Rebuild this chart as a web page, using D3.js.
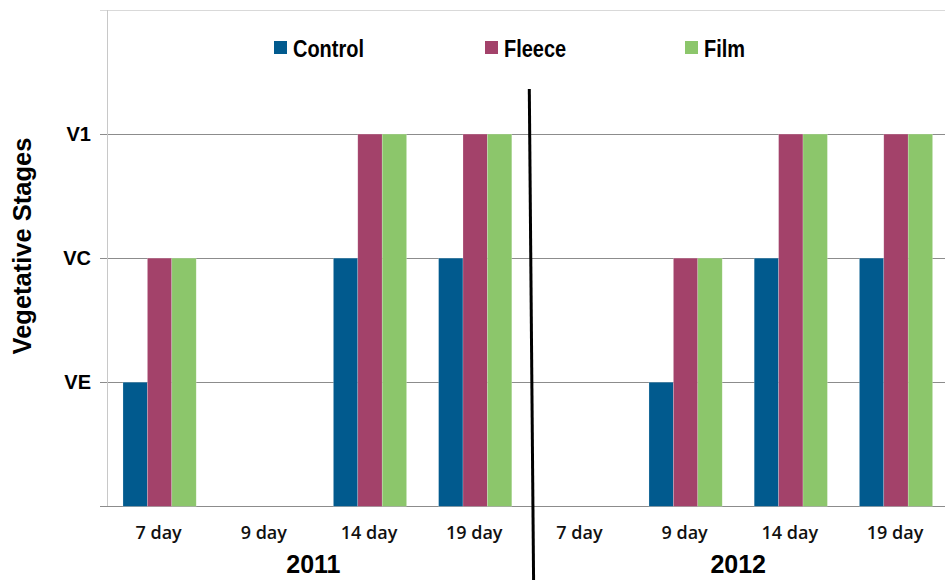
<!DOCTYPE html>
<html>
<head>
<meta charset="utf-8">
<script src="https://cdn.jsdelivr.net/npm/d3@7"></script>
<style>
  html, body { margin: 0; padding: 0; background: #fff; }
  svg { display: block; }
</style>
</head>
<body>
<svg id="chart" width="945" height="580"></svg>
<script>
// Sampling days, grouped by season
const days = ["7 day", "9 day", "14 day", "19 day", "7 day", "9 day", "14 day", "19 day"];
const years = ["2011", "2012"];
const seriesNames = ["Control", "Fleece", "Film"];
// Stage values: 0 = none, 1 = VE, 2 = VC, 3 = V1
const control = [1, 0, 2, 2, 0, 1, 2, 2];
const fleece  = [2, 0, 3, 3, 0, 2, 3, 3];
const film    = [2, 0, 3, 3, 0, 2, 3, 3];
const stageTicks = [1, 2, 3];
const stageLabels = ["VE", "VC", "V1"];
const colors = ["#015a8e", "#a3426a", "#8cc66b"];

const series = [control, fleece, film];
const groups = days.map((d, i) => i);

const svg = d3.select("#chart");
const plotLeft = 107, plotRight = 948.6, plotTop = 10, plotBottom = 506.3;

const x = d3.scaleBand().domain(groups).range([plotLeft, plotRight]).paddingInner(0).paddingOuter(0);
const xs = d3.scaleBand().domain(seriesNames).range([0, x.bandwidth()]).paddingInner(0).paddingOuter(0.655);
const y = d3.scaleLinear().domain([0, 4]).range([plotBottom, plotTop]);

// Horizontal grid lines
const yAxis = d3.axisLeft(y)
  .tickValues([0, 1, 2, 3, 4])
  .tickSize(-(plotRight - plotLeft))
  .tickFormat("");
const gy = svg.append("g").attr("transform", `translate(${plotLeft},0)`).call(yAxis);
gy.select(".domain").remove();
gy.selectAll(".tick line")
  .attr("x1", -7)
  .attr("stroke", d => d === 4 ? "#d9d9d9" : "#8c8c8c")
  .attr("stroke-width", 1)
  .attr("shape-rendering", "crispEdges");

// Vertical value axis line
svg.append("line")
  .attr("x1", plotLeft).attr("x2", plotLeft)
  .attr("y1", y(4)).attr("y2", y(0))
  .attr("stroke", "#c8c8c8")
  .attr("shape-rendering", "crispEdges");

// Stage labels
svg.append("g").selectAll("text")
  .data(stageTicks)
  .join("text")
  .attr("x", 91)
  .attr("y", d => y(d))
  .attr("dy", "0.36em")
  .attr("text-anchor", "end")
  .attr("font-family", "Liberation Sans, Arial, sans-serif")
  .attr("font-weight", "bold")
  .attr("font-size", 20)
  .attr("fill", "#000")
  .text((d, i) => stageLabels[i]);

// Bars
const barData = [];
groups.forEach(g => {
  seriesNames.forEach((s, si) => {
    if (series[si][g] > 0) barData.push({ g, s, si, v: series[si][g] });
  });
});
svg.append("g").selectAll("rect")
  .data(barData)
  .join("rect")
  .attr("x", d => x(d.g) + xs(d.s))
  .attr("width", xs.bandwidth())
  .attr("y", d => y(d.v))
  .attr("height", d => y(0) - y(d.v))
  .attr("fill", d => colors[d.si])
  .attr("stroke", "rgba(255,255,255,0.35)")
  .attr("stroke-width", 0.6);

// Day labels
svg.append("g").selectAll("text")
  .data(groups)
  .join("text")
  .attr("x", d => x(d) + x.bandwidth() / 2 - 1)
  .attr("y", 539)
  .attr("text-anchor", "middle")
  .attr("font-family", "Open Sans, sans-serif")
  .attr("font-weight", 600)
  .attr("font-size", 18)
  .attr("fill", "#111")
  .text(d => days[d]);

// Year labels centred under each group of four days
svg.append("g").selectAll("text")
  .data(years)
  .join("text")
  .attr("x", (d, i) => (x(i * 4) + x(i * 4 + 3) + x.bandwidth()) / 2 - (i === 0 ? 4 : 0))
  .attr("y", 573)
  .attr("text-anchor", "middle")
  .attr("font-family", "Liberation Sans, Arial, sans-serif")
  .attr("font-weight", "bold")
  .attr("font-size", 25)
  .attr("fill", "#000")
  .text(d => d);

// Season divider
const divX = x(4);
svg.append("line")
  .attr("x1", divX + 1.5).attr("y1", 89)
  .attr("x2", divX + 5.8).attr("y2", 582)
  .attr("stroke", "#000")
  .attr("stroke-width", 3);

// Axis title
svg.append("text")
  .attr("transform", "translate(31,246) rotate(-90)")
  .attr("text-anchor", "middle")
  .attr("font-family", "Liberation Sans, Arial, sans-serif")
  .attr("font-weight", "bold")
  .attr("font-size", 25.5)
  .attr("fill", "#000")
  .text("Vegetative Stages");

// Legend
const legendX = [274, 485, 685];
const legend = svg.append("g").selectAll("g")
  .data(seriesNames)
  .join("g")
  .attr("transform", (d, i) => `translate(${legendX[i]},41)`);
legend.append("rect")
  .attr("width", 13).attr("height", 13)
  .attr("fill", (d, i) => colors[i]);
legend.append("text")
  .attr("transform", "translate(19,15.5) scale(0.85,1)")
  .attr("font-family", "Liberation Sans, Arial, sans-serif")
  .attr("font-weight", "bold")
  .attr("font-size", 23.5)
  .attr("fill", "#000")
  .text(d => d);
</script>
</body>
</html>
